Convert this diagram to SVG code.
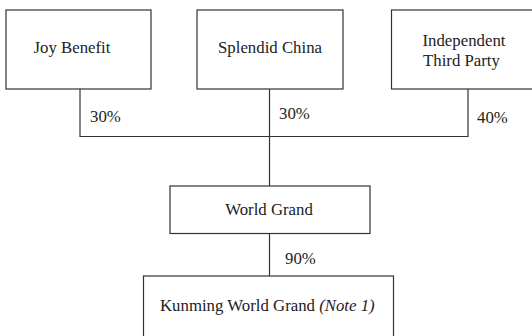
<svg xmlns="http://www.w3.org/2000/svg" width="532" height="336" viewBox="0 0 532 336">
<style>
.box{fill:#fff;stroke:#333;stroke-width:1.2}
.ln{fill:none;stroke:#333;stroke-width:1.2}
.t{font-family:'Liberation Serif','Times New Roman',serif;font-size:16.8px;fill:#222}
.c{text-anchor:middle}
</style>
<rect width="532" height="336" fill="#fff"/>
<g id="connectors">
<path class="ln" d="M80,89 V136.5 H468 V89"/>
<path class="ln" d="M269.5,89 V186"/>
<path class="ln" d="M269.5,233.5 V276"/>
</g>
<g id="joy-benefit">
<rect class="box" x="6" y="10" width="145" height="79"/>
<text class="t c" x="72" y="53">Joy Benefit</text>
</g>
<g id="splendid-china">
<rect class="box" x="197" y="10" width="146" height="79"/>
<text class="t c" x="270" y="53">Splendid China</text>
</g>
<g id="independent-third-party">
<rect class="box" x="391.5" y="10" width="150" height="79"/>
<text class="t" x="422.5" y="46">Independent</text>
<text class="t" x="423" y="65.5">Third Party</text>
</g>
<g id="world-grand">
<rect class="box" x="170" y="186" width="200" height="47.5"/>
<text class="t c" x="269" y="215">World Grand</text>
</g>
<g id="kunming-world-grand">
<rect class="box" x="143.5" y="276" width="250" height="70"/>
<text class="t" x="160" y="311">Kunming World Grand <tspan font-style="italic">(Note 1)</tspan></text>
</g>
<g id="labels">
<text class="t" x="90" y="122">30%</text>
<text class="t" x="279" y="119">30%</text>
<text class="t" x="477" y="123">40%</text>
<text class="t" x="285" y="264">90%</text>
</g>
</svg>
